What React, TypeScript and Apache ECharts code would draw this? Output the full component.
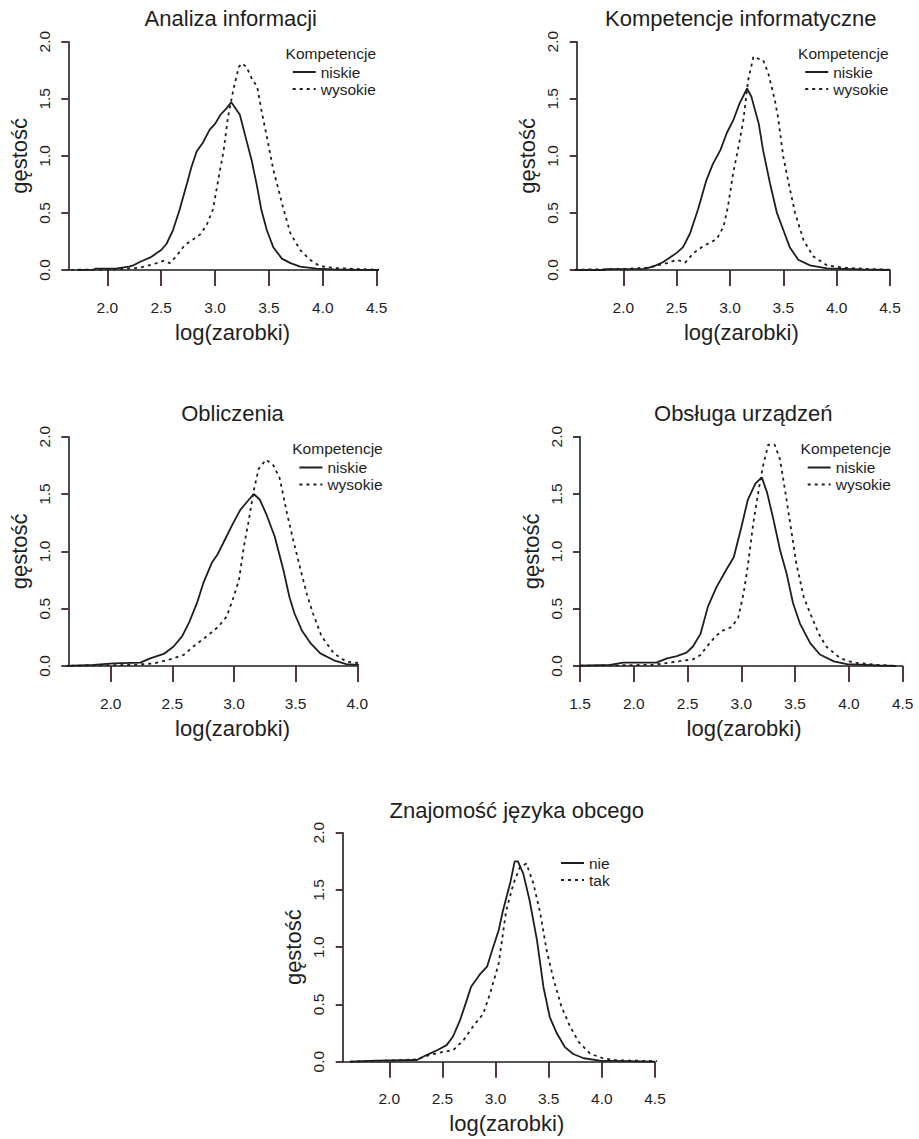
import React, { useEffect, useRef } from "react";
import * as echarts from "echarts";

const panelTitles = ["Analiza informacji", "Kompetencje informatyczne", "Obliczenia", "Obsługa urządzeń", "Znajomość języka obcego"];
const legendTitle = "Kompetencje";
const yName = "gęstość";
const xName = "log(zarobki)";
const namesKomp = ["niskie", "wysokie"];
const namesLang = ["nie", "tak"];
const xTicksA = [2, 2.5, 3, 3.5, 4, 4.5];
const xTicksB = [2, 2.5, 3, 3.5, 4];
const xTicksC = [1.5, 2, 2.5, 3, 3.5, 4, 4.5];

// [log(zarobki), density]
const p1Low = [[1.72,0],[1.88,0.003],[1.89,0.012],[2.09,0.015],[2.2,0.03],[2.24,0.04],[2.3,0.07],[2.4,0.11],[2.5,0.175],[2.55,0.23],[2.61,0.35],[2.67,0.525],[2.74,0.76],[2.78,0.9],[2.83,1.04],[2.89,1.12],[2.95,1.23],[3.0,1.28],[3.05,1.36],[3.11,1.42],[3.15,1.47],[3.18,1.43],[3.23,1.36],[3.29,1.14],[3.34,0.96],[3.39,0.73],[3.43,0.525],[3.48,0.35],[3.54,0.2],[3.62,0.1],[3.7,0.06],[3.79,0.03],[3.94,0.012],[4.1,0.005],[4.3,0.002],[4.53,0]];
const p1High = [[1.47,0],[2.09,0.005],[2.3,0.02],[2.46,0.06],[2.52,0.08],[2.58,0.06],[2.64,0.12],[2.72,0.22],[2.8,0.27],[2.86,0.31],[2.92,0.39],[2.98,0.53],[3.03,0.79],[3.08,1.05],[3.12,1.34],[3.17,1.58],[3.22,1.78],[3.25,1.81],[3.29,1.78],[3.35,1.66],[3.39,1.61],[3.43,1.4],[3.48,1.17],[3.54,0.88],[3.59,0.7],[3.63,0.55],[3.7,0.32],[3.79,0.175],[3.88,0.09],[3.97,0.035],[4.1,0.018],[4.28,0.01],[4.5,0.003],[4.75,0]];
const p2Low = [[1.41,0],[1.83,0],[1.84,0.008],[2.19,0.01],[2.28,0.03],[2.375,0.07],[2.5,0.15],[2.56,0.2],[2.625,0.32],[2.7,0.53],[2.78,0.79],[2.84,0.93],[2.91,1.05],[2.97,1.2],[3.03,1.31],[3.09,1.46],[3.16,1.59],[3.2,1.52],[3.27,1.28],[3.31,1.05],[3.375,0.76],[3.44,0.5],[3.5,0.35],[3.56,0.2],[3.64,0.09],[3.75,0.04],[3.91,0.015],[4.22,0.005],[4.5,0]];
const p2High = [[1.41,0],[2.03,0.01],[2.22,0.02],[2.41,0.06],[2.5,0.09],[2.58,0.065],[2.66,0.15],[2.75,0.21],[2.875,0.27],[2.94,0.38],[2.98,0.55],[3.03,0.85],[3.08,1.08],[3.125,1.31],[3.17,1.66],[3.22,1.87],[3.27,1.85],[3.31,1.84],[3.36,1.72],[3.42,1.49],[3.45,1.34],[3.5,0.99],[3.55,0.76],[3.61,0.5],[3.69,0.26],[3.78,0.12],[3.91,0.04],[4.06,0.02],[4.375,0.005],[4.75,0]];
const p3Low = [[1.62,0],[1.86,0.01],[2.02,0.023],[2.24,0.03],[2.32,0.067],[2.43,0.105],[2.51,0.17],[2.58,0.26],[2.64,0.39],[2.7,0.55],[2.75,0.72],[2.82,0.9],[2.87,0.98],[2.93,1.11],[2.99,1.24],[3.05,1.36],[3.12,1.45],[3.16,1.5],[3.21,1.45],[3.26,1.33],[3.33,1.13],[3.4,0.84],[3.45,0.6],[3.49,0.46],[3.55,0.31],[3.62,0.2],[3.7,0.11],[3.81,0.05],[3.91,0.017],[4.08,0.005],[4.21,0]];
const p3High = [[1.51,0],[2.18,0.01],[2.35,0.023],[2.48,0.058],[2.59,0.096],[2.67,0.17],[2.78,0.26],[2.87,0.34],[2.94,0.43],[2.99,0.58],[3.04,0.75],[3.08,1.04],[3.12,1.27],[3.16,1.53],[3.2,1.72],[3.26,1.8],[3.32,1.75],[3.37,1.64],[3.43,1.33],[3.48,1.1],[3.54,0.84],[3.59,0.63],[3.64,0.46],[3.71,0.26],[3.81,0.11],[3.91,0.038],[4.08,0.017],[4.18,0.01],[4.44,0]];
const p4Low = [[1.31,0],[1.78,0.01],[1.9,0.03],[2.21,0.03],[2.31,0.067],[2.4,0.087],[2.49,0.116],[2.55,0.17],[2.62,0.28],[2.69,0.52],[2.77,0.69],[2.86,0.84],[2.93,0.95],[3.0,1.21],[3.06,1.45],[3.13,1.59],[3.19,1.645],[3.24,1.51],[3.3,1.27],[3.36,1.01],[3.42,0.81],[3.48,0.55],[3.545,0.37],[3.64,0.2],[3.73,0.1],[3.86,0.04],[3.98,0.017],[4.26,0.005],[4.44,0]];
const p4High = [[1.31,0],[2.18,0.01],[2.37,0.035],[2.55,0.058],[2.62,0.096],[2.68,0.17],[2.76,0.26],[2.83,0.31],[2.91,0.34],[2.97,0.42],[3.02,0.63],[3.06,0.87],[3.11,1.24],[3.16,1.53],[3.2,1.74],[3.25,1.93],[3.31,1.93],[3.36,1.8],[3.41,1.51],[3.45,1.27],[3.51,0.9],[3.58,0.6],[3.64,0.46],[3.72,0.28],[3.79,0.17],[3.92,0.067],[4.04,0.03],[4.26,0.01],[4.44,0]];
const p5Nie = [[1.63,0],[1.87,0.01],[2.26,0.015],[2.35,0.058],[2.45,0.1],[2.54,0.145],[2.6,0.22],[2.665,0.36],[2.73,0.54],[2.77,0.655],[2.85,0.76],[2.92,0.83],[2.96,0.95],[3.03,1.15],[3.07,1.32],[3.14,1.57],[3.18,1.75],[3.21,1.75],[3.26,1.645],[3.32,1.41],[3.39,1.06],[3.45,0.655],[3.51,0.39],[3.575,0.25],[3.65,0.13],[3.73,0.067],[3.83,0.03],[3.98,0.01],[4.5,0]];
const p5Tak = [[1.63,0],[2.0,0.01],[2.26,0.02],[2.38,0.058],[2.51,0.087],[2.6,0.1],[2.7,0.19],[2.79,0.31],[2.885,0.42],[2.95,0.6],[3.03,0.86],[3.1,1.32],[3.17,1.56],[3.23,1.7],[3.29,1.73],[3.355,1.56],[3.42,1.3],[3.48,0.975],[3.54,0.74],[3.62,0.48],[3.7,0.31],[3.78,0.175],[3.89,0.07],[4.01,0.03],[4.14,0.012],[4.77,0]];

const FONT = '"Liberation Sans", Arial, Helvetica, sans-serif';
const INK = "#1e1e1e";
const TICK_INK = "#402424";
const X_TICK_LEN = 16;
const Y_TICK_LEN = 7;

const panels = [
  { grid: { left: 68.3, top: 41.7, width: 308.4, height: 228.3 }, xmin: 1.638, xmax: 4.5, ticks: xTicksA, low: p1Low, high: p1High, names: namesKomp, title: [230.8, 18.5], legTitle: [330.8, 53], leg: [291.7, 64], xShift: 10 },
  { grid: { left: 576.7, top: 41.7, width: 313.3, height: 228.3 }, xmin: 1.563, xmax: 4.5, ticks: xTicksA, low: p2Low, high: p2High, names: namesKomp, title: [740.8, 18.5], legTitle: [843.3, 53], leg: [804.2, 64], xShift: 8 },
  { grid: { left: 68.3, top: 436.7, width: 289, height: 229.3 }, xmin: 1.656, xmax: 4.0, ticks: xTicksB, low: p3Low, high: p3High, names: namesKomp, title: [232.5, 413.3], legTitle: [337.5, 448.5], leg: [298.4, 459.5], xShift: 19.7 },
  { grid: { left: 580, top: 436.7, width: 322.7, height: 229.3 }, xmin: 1.5, xmax: 4.5, ticks: xTicksC, low: p4Low, high: p4High, names: namesKomp, title: [743.3, 413.3], legTitle: [845.8, 448.5], leg: [806.7, 459.5], xShift: 2.7 },
  { grid: { left: 342.7, top: 832.7, width: 312.3, height: 229 }, xmin: 1.562, xmax: 4.5, ticks: xTicksA, low: p5Nie, high: p5Tak, names: namesLang, title: [516.7, 810], legTitle: null, leg: [560, 855], xShift: 7.9 },
];

export default function App() {
  const ref = useRef<HTMLDivElement>(null);
  useEffect(() => {
    if (!ref.current) return;
    const chart = echarts.init(ref.current, undefined, { renderer: "svg" });
    const fmt = (v: number) => v.toFixed(1);
    const grid: any[] = [];
    const xAxis: any[] = [];
    const yAxis: any[] = [];
    const series: any[] = [];
    const legend: any[] = [];
    const graphic: any[] = [];
    panels.forEach((p, i) => {
      grid.push({ ...p.grid, containLabel: false });
      xAxis.push({
        gridIndex: i, type: "value", min: p.xmin, max: p.xmax, position: "bottom",
        axisLine: { show: true, onZero: false, lineStyle: { color: INK, width: 1.6 } },
        axisTick: { show: true, length: X_TICK_LEN, customValues: p.ticks, lineStyle: { color: TICK_INK, width: 1.8 } },
        axisLabel: { customValues: p.ticks, formatter: fmt, margin: 29, fontSize: 15.5, color: INK, fontFamily: FONT },
        splitLine: { show: false },
        name: xName, nameLocation: "middle", nameGap: 51,
        nameTextStyle: { fontSize: 22, color: INK, fontFamily: FONT, padding: [0, 0, 0, 2 * p.xShift] },
      });
      yAxis.push({
        gridIndex: i, type: "value", min: 0, max: 2, interval: 0.5,
        axisLine: { show: true, lineStyle: { color: INK, width: 1.6 } },
        axisTick: { show: true, length: Y_TICK_LEN, lineStyle: { color: TICK_INK, width: 1.8 } },
        axisLabel: { rotate: 90, formatter: fmt, margin: 16, fontSize: 15.5, color: INK, fontFamily: FONT },
        splitLine: { show: false },
        name: yName, nameLocation: "middle", nameRotate: 90, nameGap: 38,
        nameTextStyle: { fontSize: 22, color: INK, fontFamily: FONT },
      });
      series.push({
        type: "line", name: p.names[0], xAxisIndex: i, yAxisIndex: i, data: p.low,
        symbol: "none", showSymbol: false, clip: false, smooth: false,
        lineStyle: { color: INK, width: 1.8, type: "solid" }, itemStyle: { color: INK },
      });
      series.push({
        type: "line", name: p.names[1], xAxisIndex: i, yAxisIndex: i, data: p.high,
        symbol: "none", showSymbol: false, clip: false, smooth: false,
        lineStyle: { color: INK, width: 1.8, type: [3, 4] }, itemStyle: { color: INK },
      });
      legend.push({
        data: p.names, orient: "vertical", left: p.leg[0], top: p.leg[1], padding: 0,
        itemWidth: 23, itemHeight: 10, itemGap: 1, selectedMode: false,
        itemStyle: { opacity: 0 },
        textStyle: { fontSize: 15.5, lineHeight: 15, color: INK, fontFamily: FONT },
      });
      graphic.push({
        type: "text", x: p.title[0], y: p.title[1],
        style: { text: panelTitles[i], fill: INK, font: `22px ${FONT}`, textAlign: "center", textVerticalAlign: "middle" },
      });
      if (p.legTitle) {
        graphic.push({
          type: "text", x: p.legTitle[0], y: p.legTitle[1],
          style: { text: legendTitle, fill: INK, font: `15.5px ${FONT}`, textAlign: "center", textVerticalAlign: "middle" },
        });
      }
    });
    chart.setOption({
      animation: false,
      backgroundColor: "#ffffff",
      grid, xAxis, yAxis, series, legend, graphic,
    });
    return () => chart.dispose();
  }, []);
  return <div ref={ref} style={{ position: "absolute", left: 0, top: 0, width: 919, height: 1139 }} />;
}
